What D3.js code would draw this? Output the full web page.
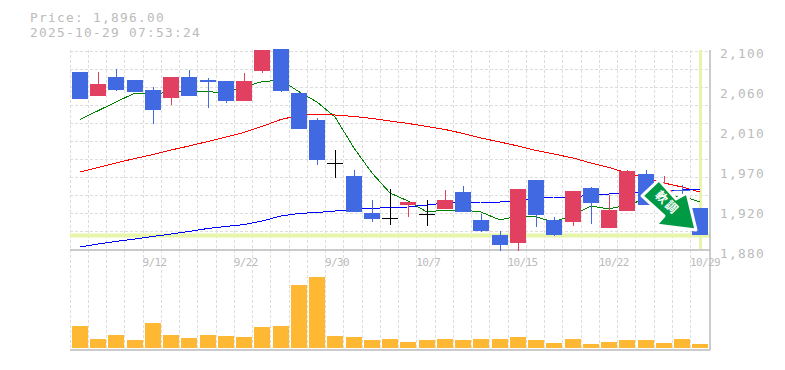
<!DOCTYPE html>
<html>
<head>
<meta charset="utf-8">
<title>Price chart</title>
<script src="https://d3js.org/d3.v7.min.js"></script>
<style>
    body { margin: 0; background: #fff; }
    text { font-family: "DejaVu Sans Mono", monospace; fill: #bbb; }
</style>
</head>
<body>
<script>
//categories
var dates = ["9/8","9/9","9/10","9/11","9/12","9/16","9/17","9/18","9/19","9/22","9/24","9/25","9/26","9/29","9/30",
    "10/1","10/2","10/3","10/6","10/7","10/8","10/9","10/10","10/14","10/15","10/16","10/17","10/20","10/21","10/22",
    "10/23","10/24","10/27","10/28","10/29"];
var dateTicks = ["9/12","9/22","9/30","10/7","10/15","10/22","10/29"];

//candles
var open = [2076,2049,2070,2067,2056,2047,2070,2067,2066,2044,2077,2101,2053,2023,1976,1961,1921,1915,1930,1920,1925,1944,1913,1897,1888,1957,1913,1911,1948,1904,1923,1964,1930,1946,1926];
var high = [2076,2076,2079,2067,2059,2070,2078,2069,2066,2075,2100,2101,2053,2025,1990,1968,1935,1947,1933,1935,1946,1950,1920,1901,1947,1957,1916,1945,1949,1941,1968,1968,1961,1952,1926];
var low = [2046,2049,2055,2054,2019,2040,2049,2036,2042,2044,2075,2054,2013,1974,1959,1922,1911,1908,1916,1906,1925,1922,1900,1879,1879,1905,1895,1906,1909,1904,1923,1930,1930,1941,1896];
var close = [2046,2063,2056,2054,2034,2070,2049,2065,2044,2066,2100,2055,2013,1979,1976,1922,1914,1915,1933,1920,1935,1922,1901,1886,1947,1919,1897,1945,1932,1924,1967,1930,1946,1945,1896];

//moving averages
var maShort = [2023.6,2033.2,2042.8,2052.7,2051.6,2053.8,2054.1,2054.1,2053,2059.6,2065.1,2067,2054.1,2042.8,2026.3,1992.2,1964.7,1942.7,1933.9,1921.8,1924,1924,1921.8,1913,1917.4,1916.3,1910.8,1918.5,1928.4,1925.1,1929.5,1936.1,1939.4,1939.4,1932.8];
var maMid = [1965.8,1970.8,1975.7,1980.7,1985,1990,1994.4,1999.4,2004.3,2009.3,2015.9,2023.6,2028,2029.6,2028.5,2026.9,2024.7,2021.9,2019.2,2015.9,2012.6,2008.2,2003.2,1998.8,1994.4,1989.5,1985.6,1981.2,1975.7,1970.8,1964.7,1959.2,1953.7,1949.3,1943.8];
var maLong = [1883.3,1886.6,1889.4,1892.1,1894.9,1897.6,1900.4,1903.7,1905.9,1908,1911.9,1917.4,1920.2,1921.3,1922.9,1924.6,1925.7,1926.8,1927.3,1929.5,1931.7,1932.3,1932.8,1932.8,1933.4,1937.8,1938.3,1938.3,1940.5,1941.6,1942.7,1943.8,1944.9,1946,1947.1];

//volume
var volume = [220,90,130,80,250,130,100,130,120,110,210,220,630,710,120,110,80,90,60,80,90,80,90,90,110,80,50,90,40,60,80,80,50,90,40];

//price axis
var priceTicks = [2100,2056,2012,1968,1924,1880];
var lastPrice = 1896;
var stamp = "2025-10-29 07:53:24";

var left = 70.825, right = 709.575, top_ = 50, priceBottom = 250, volBottom = 348, chartBottom = 350;

var svg = d3.select("body")
    .append("svg")
    .attr("width", 785)
    .attr("height", 370)
    .style("display", "block");

//scales
var x = d3.scaleBand()
    .domain(dates)
    .range([left, right])
    .paddingInner(0.12)
    .paddingOuter(0.06);

var y = d3.scaleLinear()
    .domain([1880, 2100])
    .range([priceBottom, top_]);

var yVol = d3.scaleLinear()
    .domain([0, 1000])
    .range([volBottom, volBottom - 100]);

function cx(d){ return Math.round(x(d) + x.bandwidth() / 2); }
function py(v){ return Math.round(y(v)); }

//horizontal grid, every 18px
var grid = svg.append("g").attr("class", "grid")
    .attr("stroke", "#ddd")
    .attr("stroke-dasharray", "3,2");

grid.selectAll(".hgrid")
    .data(d3.range(0, 11))
    .enter()
    .append("line")
    .attr("x1", 70)
    .attr("x2", 710)
    .attr("y1", function(d){ return 51.5 + d * 18; })
    .attr("y2", function(d){ return 51.5 + d * 18; });

//vertical grid, on the day boundaries
grid.selectAll(".vgrid")
    .data(d3.range(0, 35))
    .enter()
    .append("line")
    .attr("x1", function(d){ return Math.floor(left - 0.75 + d * x.step()) + 0.5; })
    .attr("x2", function(d){ return Math.floor(left - 0.75 + d * x.step()) + 0.5; })
    .attr("y1", top_)
    .attr("y2", chartBottom);

//last price highlight
svg.append("line")
    .attr("x1", 70)
    .attr("x2", 710)
    .attr("y1", y(lastPrice))
    .attr("y2", y(lastPrice))
    .attr("stroke", "#e6f5a9")
    .attr("stroke-width", 4);

svg.append("line")
    .attr("x1", cx(dates[34]) + 0.5)
    .attr("x2", cx(dates[34]) + 0.5)
    .attr("y1", top_)
    .attr("y2", priceBottom - 1)
    .attr("stroke", "#e6f5a9")
    .attr("stroke-width", 3);

//frame
svg.append("path")
    .attr("d", "M70," + priceBottom + "H710M710,50V" + chartBottom + "M70," + chartBottom + "H710")
    .attr("fill", "none")
    .attr("stroke", "#bbb")
    .attr("stroke-width", 1.5);

//moving average lines, they sit under the candles
var line = d3.line()
    .x(function(d, i){ return cx(dates[i]); })
    .y(function(d){ return y(d); });

var maColors = ["#008000", "#ff0000", "#0000ff"];
[maShort, maMid, maLong].forEach(function(ma, k){
    svg.append("path")
        .attr("d", line(ma))
        .attr("fill", "none")
        .attr("stroke", maColors[k])
        .attr("shape-rendering", "crispEdges");
});

//wicks and bodies
function candleColor(i){
    if (open[i] === close[i]) return "#000";
    return close[i] > open[i] ? "#e24060" : "#4169e1";
}

svg.selectAll(".wick")
    .data(dates)
    .enter()
    .append("line")
    .attr("class", "wick")
    .attr("x1", function(d){ return cx(d) + 0.5; })
    .attr("x2", function(d){ return cx(d) + 0.5; })
    .attr("y1", function(d, i){ return py(high[i]); })
    .attr("y2", function(d, i){ return py(low[i]); })
    .attr("stroke", function(d, i){ return candleColor(i); })
    .attr("shape-rendering", "crispEdges");

svg.selectAll(".body")
    .data(dates)
    .enter()
    .append("rect")
    .attr("class", "body")
    .attr("x", function(d){ return cx(d) - 8; })
    .attr("width", 16)
    .attr("y", function(d, i){ return py(Math.max(open[i], close[i])); })
    .attr("height", function(d, i){ return Math.max(1, Math.abs(py(open[i]) - py(close[i]))); })
    .attr("fill", function(d, i){ return candleColor(i); })
    .attr("shape-rendering", "crispEdges");

//volume bars
svg.selectAll(".vol")
    .data(volume)
    .enter()
    .append("rect")
    .attr("class", "vol")
    .attr("x", function(d, i){ return cx(dates[i]) - 8; })
    .attr("width", 16)
    .attr("y", function(d){ return yVol(d); })
    .attr("height", function(d){ return volBottom - yVol(d); })
    .attr("fill", "#ffb833");

//arrow, tip anchored next to the last candle
var arrow = svg.append("g")
    .attr("class", "arrow")
    .attr("transform", "translate(" + (cx(dates[34]) - 4) + "," + (y(lastPrice) - 5.5) + ")");

arrow.append("path")
    .attr("d", "M0,0 L-40,-5 L-32,-14 L-54,-34 L-37,-50 L-20,-31 L-9,-37 Z")
    .attr("fill", "#009944")
    .attr("stroke", "#fff")
    .attr("stroke-width", 3)
    .attr("stroke-linejoin", "round");

arrow.append("text")
    .attr("transform", "translate(-29,-27) rotate(45)")
    .attr("text-anchor", "middle")
    .attr("dy", 4)
    .style("font-family", "'Noto Sans CJK JP'")
    .style("font-size", "12px")
    .style("font-weight", "bold")
    .style("fill", "#fff")
    .style("letter-spacing", "2px")
    .text("軟調");

//axes
var yAxis = d3.axisRight(y)
    .tickValues(priceTicks)
    .tickSize(0)
    .tickPadding(0)
    .tickFormat(function(d){ return d3.format(",")(Math.round(d / 10) * 10); });

var yG = svg.append("g")
    .attr("transform", "translate(720,3.2)")
    .call(yAxis);
yG.select(".domain").remove();
yG.selectAll("text")
    .style("font-size", "12.8px")
    .style("letter-spacing", "1.3px")
    .style("font-family", "'DejaVu Sans Mono'");

var xAxis = d3.axisBottom(x)
    .tickValues(dateTicks)
    .tickSize(0)
    .tickPadding(0);

var xG = svg.append("g")
    .attr("transform", "translate(0,258)")
    .call(xAxis);
xG.select(".domain").remove();
xG.selectAll("text")
    .attr("text-anchor", "start")
    .attr("dx", -10.5)
    .style("font-size", "11px")
    .style("letter-spacing", "-0.6px")
    .style("font-family", "'DejaVu Sans Mono'");

//title block
svg.append("text")
    .attr("x", 30)
    .attr("y", 22)
    .style("font-size", "12.8px")
    .style("letter-spacing", "1.3px")
    .text("Price: " + d3.format(",.2f")(lastPrice));

svg.append("text")
    .attr("x", 30)
    .attr("y", 37)
    .style("font-size", "12.8px")
    .style("letter-spacing", "1.3px")
    .text(stamp);
</script>
</body>
</html>
